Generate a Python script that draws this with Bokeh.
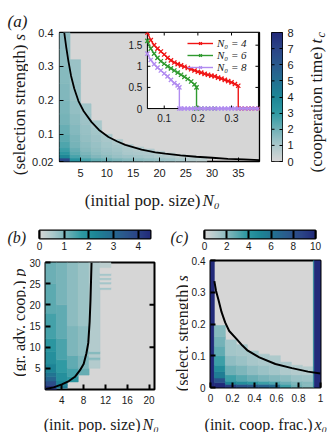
import numpy as np
from bokeh.plotting import figure
from bokeh.models import (Range1d, LinearColorMapper, FixedTicker, PrintfTickFormatter,
                          Legend, LegendItem, LinearAxis, ColumnDataSource)
from bokeh.layouts import column, row
from bokeh.embed import file_html
from bokeh.resources import INLINE
from bokeh.core.properties import value

# ---------------- data: panel (a) heatmap, t_c per N0 column (cells stacked from s = 0.02) -------------
a_N0 = [2, 4, 6, 8, 10, 12, 14, 16, 18, 20, 22, 24, 26, 28]
a_dN0 = 2
a_s_start = 0.02
a_tops = [
    [0.03, 0.04, 0.05, 0.06, 0.08, 0.10, 0.13, 0.16, 0.20, 0.25, 0.30, 0.35, 0.40],
    [0.03, 0.04, 0.05, 0.06, 0.08, 0.10, 0.13, 0.16, 0.20, 0.25, 0.32],
    [0.03, 0.04, 0.05, 0.06, 0.08, 0.10, 0.13, 0.16, 0.19],
    [0.03, 0.04, 0.05, 0.06, 0.08, 0.10, 0.12, 0.14],
    [0.03, 0.04, 0.05, 0.06, 0.08, 0.10],
    [0.03, 0.04, 0.05, 0.06, 0.07, 0.085],
    [0.03, 0.04, 0.05, 0.06, 0.07],
    [0.03, 0.04, 0.05, 0.063],
    [0.03, 0.04, 0.05, 0.057],
    [0.03, 0.04, 0.05],
    [0.03, 0.04, 0.045],
    [0.03, 0.04],
    [0.03, 0.037],
    [0.03, 0.035],
]
a_tc = [
    [6.8, 3.9, 3.2, 2.8, 2.5, 2.3, 2.1, 1.9, 1.8, 1.7, 1.6, 1.5, 1.45],
    [3.4, 2.6, 2.3, 2.1, 1.9, 1.8, 1.65, 1.5, 1.4, 1.3, 1.25],
    [2.6, 2.0, 1.8, 1.6, 1.5, 1.4, 1.3, 1.2, 1.1],
    [2.2, 1.7, 1.5, 1.4, 1.3, 1.2, 1.1, 1.0],
    [2.0, 1.5, 1.3, 1.2, 1.1, 1.0],
    [1.8, 1.3, 1.2, 1.1, 1.0, 0.9],
    [1.6, 1.2, 1.0, 0.95, 0.85],
    [1.5, 1.1, 0.95, 0.8],
    [1.4, 1.0, 0.85, 0.75],
    [1.3, 0.9, 0.7],
    [1.2, 0.8, 0.6],
    [1.0, 0.6],
    [0.8, 0.5],
    [0.6, 0.4],
]
a_curve_N0 = [1.9, 2.3, 2.7, 3.2, 3.8, 4.6, 5.6, 7.1, 8.5, 10.3, 12.0, 13.5, 16.6, 19.2, 21.1,
              24.0, 27.0, 30.0, 33.0, 36.0, 39.0]
a_curve_s = [0.40, 0.355, 0.315, 0.272, 0.235, 0.198, 0.168, 0.136, 0.113, 0.092, 0.079, 0.069,
             0.055, 0.047, 0.043, 0.038, 0.034, 0.031, 0.028, 0.026, 0.024]
a_xticks = [5, 10, 15, 20, 25, 30, 35]
a_yticks = [0.02, 0.1, 0.2, 0.3, 0.4]
a_cb_ticks = [0, 1, 2, 3, 4, 5, 6, 7, 8]

# ---------------- data: inset of (a) ----------------
red_x = [0.05, 0.06, 0.07, 0.08, 0.09, 0.10, 0.11, 0.12, 0.13, 0.14, 0.15, 0.16, 0.17, 0.18, 0.19,
         0.20, 0.21, 0.22, 0.23, 0.24, 0.25, 0.26, 0.27, 0.28, 0.29, 0.30, 0.31, 0.32,
         0.32, 0.33, 0.34, 0.35, 0.36, 0.37, 0.38]
red_y = [1.80, 1.62, 1.50, 1.42, 1.35, 1.28, 1.20, 1.14, 1.09, 1.05, 1.02, 0.99, 0.96, 0.93, 0.90,
         0.87, 0.85, 0.82, 0.80, 0.78, 0.76, 0.73, 0.71, 0.68, 0.65, 0.62, 0.58, 0.54,
         0, 0, 0, 0, 0, 0, 0]
green_x = [0.05, 0.06, 0.07, 0.08, 0.09, 0.10, 0.11, 0.12, 0.13, 0.14, 0.15, 0.16, 0.17, 0.18, 0.19,
           0.196, 0.196, 0.21, 0.23, 0.25]
green_y = [1.60, 1.42, 1.30, 1.20, 1.12, 1.06, 1.00, 0.95, 0.90, 0.85, 0.80, 0.75, 0.70, 0.64, 0.57,
           0.50, 0, 0, 0, 0]
purple_x = [0.05, 0.06, 0.07, 0.08, 0.09, 0.10, 0.11, 0.12, 0.13, 0.14, 0.145,
            0.145, 0.15, 0.16, 0.17, 0.18, 0.19, 0.20, 0.21, 0.22, 0.23, 0.24, 0.25, 0.26, 0.27,
            0.28, 0.29, 0.30, 0.31, 0.32, 0.33, 0.34, 0.35, 0.36, 0.37, 0.38]
purple_y = [1.30, 1.15, 1.05, 0.97, 0.90, 0.83, 0.76, 0.68, 0.60, 0.55, 0.50,
            0, 0, 0, 0, 0, 0, 0, 0, 0, 0, 0, 0, 0, 0, 0, 0, 0, 0, 0, 0, 0, 0, 0, 0, 0]
ins_xticks = [0.1, 0.2, 0.3]
ins_yticks = [0, 0.5, 1, 1.5]
ins_labels = ["N\u2080 = 4", "N\u2080 = 6", "N\u2080 = 8"]

# ---------------- data: panel (b) ----------------
b_N0 = [2, 4, 6, 8, 10, 12]
b_dN0 = 2
b_p_start = [0, 0.3, 1.8, 3.4, 5.0, 23.6]
b_tops = [
    [1, 2, 3, 4, 6, 9, 12, 18, 25, 30],
    [1, 2, 4, 7, 12, 20, 30],
    [3, 5, 8, 15, 30],
    [5, 8, 15, 30],
    [7.0, 7.6, 8.4, 9.0, 30],
    [24.1, 24.9, 25.4, 25.9, 26.4, 26.9, 27.4, 28.8, 30],
]
b_tc = [
    [4.3, 3.7, 3.1, 2.7, 2.3, 2.0, 1.8, 1.5, 1.3, 1.15],
    [2.6, 2.3, 2.0, 1.7, 1.45, 1.25, 1.05],
    [1.8, 1.5, 1.25, 1.0, 0.85],
    [1.2, 1.0, 0.85, 0.7],
    [0.45, 0.9, 0.45, 0.9, 0.45],
    [0.6, 0, 0.6, 0, 0.6, 0, 0.6, 0, 0.35],
]
b_curve_N0 = [1.0, 2.5, 4.0, 5.3, 6.4, 7.3, 8.0, 8.5, 8.85, 9.1, 9.25, 9.35, 9.45]
b_curve_p = [0.1, 0.5, 1.2, 2.0, 3.0, 4.5, 6.0, 8.5, 11, 16, 21, 25.5, 30]
b_xticks = [4, 8, 12, 16, 20]
b_yticks = [5, 10, 15, 20, 25, 30]
b_rticks = [10, 20]
b_cb_ticks = [0, 1, 2, 3, 4]

# ---------------- data: panel (c) ----------------
c_x_left = [0.0, 0.035, 0.135, 0.235, 0.335, 0.435, 0.535, 0.635, 0.735, 0.835, 0.935, 0.943]
c_x_right = [0.035, 0.135, 0.235, 0.335, 0.435, 0.535, 0.635, 0.735, 0.835, 0.935, 0.943, 1.0]
c_s_start = 0.0
c_tops = [
    [0.4],
    [0.015, 0.03, 0.05, 0.07, 0.10, 0.13, 0.16, 0.195],
    [0.01, 0.02, 0.04, 0.07, 0.10, 0.15],
    [0.01, 0.02, 0.04, 0.07, 0.10, 0.135],
    [0.01, 0.02, 0.04, 0.07, 0.115],
    [0.01, 0.02, 0.04, 0.07, 0.105],
    [0.01, 0.02, 0.04, 0.07, 0.10],
    [0.01, 0.02, 0.04, 0.08],
    [0.01, 0.02, 0.04, 0.07],
    [0.01, 0.02, 0.04, 0.065],
    [0.4],
    [0.4],
]
c_tc = [
    [10],
    [10, 8, 5.5, 4.5, 3.5, 2.8, 2.4, 2.0],
    [9, 5, 3.5, 2.5, 1.8, 1.4],
    [8, 4.5, 3.0, 2.2, 1.6, 1.3],
    [7.5, 4, 2.6, 1.8, 1.3],
    [7, 3.5, 2.3, 1.6, 1.2],
    [6.5, 3.2, 2.1, 1.4, 1.1],
    [3.5, 2.6, 1.9, 1.1],
    [2.5, 2.2, 1.6, 1.0],
    [2.0, 2.0, 1.5, 0.9],
    [4.0],
    [10],
]
c_curve_x = [0.035, 0.05, 0.074, 0.1, 0.133, 0.17, 0.236, 0.29, 0.339, 0.444, 0.59, 0.74, 0.886, 1.0]
c_curve_s = [0.335, 0.305, 0.274, 0.238, 0.205, 0.178, 0.153, 0.132, 0.116, 0.095, 0.074, 0.061,
             0.050, 0.044]
c_xticks = [0, 0.2, 0.4, 0.6, 0.8, 1]
c_yticks = [0, 0.1, 0.2, 0.3, 0.4]
c_cb_ticks = [0, 2, 4, 6, 8, 10]

# ---------------- style ----------------
GRAY = "#d6d6d6"
anchors = [(0.0, "#d6d6d6"), (0.125, "#a9c8cb"), (0.25, "#6fb0b6"), (0.375, "#2f9aa3"),
           (0.5, "#1d8696"), (0.625, "#237091"), (0.75, "#2a5a8d"), (0.875, "#2b4587"),
           (1.0, "#222a7a")]


def make_palette(anch, n=256):
    fs = [a[0] for a in anch]
    rgb = np.array([[int(c[i:i + 2], 16) for i in (1, 3, 5)] for _, c in anch], dtype=float)
    out = []
    for t in np.linspace(0, 1, n):
        r, g, b = (np.interp(t, fs, rgb[:, k]) for k in range(3))
        out.append("#%02x%02x%02x" % (int(round(r)), int(round(g)), int(round(b))))
    return out


PAL = make_palette(anchors)
map_a = LinearColorMapper(palette=PAL, low=0, high=8)
map_b = LinearColorMapper(palette=PAL, low=0, high=4.5)
map_c = LinearColorMapper(palette=PAL, low=0, high=10)

SERIF = "Liberation Serif"
SANS = "Liberation Sans"
TXT = "#1a1a1a"
FS = "17px"
FS2 = "16px"


def no_align(p):
    try:
        p.frame_align = False
    except Exception:
        pass
    return p


def fig(w, h, xr, yr, ml, mr, mt, mb, outline_w, **kw):
    p = figure(width=w, height=h, x_range=xr, y_range=yr, output_backend="svg",
               toolbar_location=None, min_border_left=ml, min_border_right=mr,
               min_border_top=mt, min_border_bottom=mb, background_fill_color=GRAY,
               border_fill_color="white", outline_line_color="black",
               outline_line_width=outline_w, **kw)
    p.grid.visible = False
    return no_align(p)


def textfig(w, h):
    # a blank strip whose data units are pixels from its bottom-left corner
    p = figure(width=w, height=h, x_range=Range1d(0, w), y_range=Range1d(0, h),
               output_backend="svg", toolbar_location=None, min_border=0,
               x_axis_location=None, y_axis_location=None, outline_line_color=None,
               background_fill_color="white", border_fill_color="white")
    p.grid.visible = False
    return no_align(p)


def style_axis(ax, ticks, size, tick_w, standoff, tick_len=4):
    ax.ticker = FixedTicker(ticks=ticks)
    ax.formatter = PrintfTickFormatter(format="%g")
    ax.major_tick_in = tick_len
    ax.major_tick_out = 0
    ax.minor_tick_line_color = None
    ax.axis_line_color = None
    ax.major_tick_line_color = "black"
    ax.major_tick_line_width = tick_w
    ax.major_label_text_font = SANS
    ax.major_label_text_font_size = size
    ax.major_label_text_color = TXT
    ax.major_label_standoff = standoff


def cells(p, lefts, rights, starts, tops, vals, mapper):
    L, R, B, T, V = [], [], [], [], []
    for l, r, s0, tp, vv in zip(lefts, rights, starts, tops, vals):
        b = s0
        for t, v in zip(tp, vv):
            L.append(l); R.append(r); B.append(b); T.append(t); V.append(v)
            b = t
    src = ColumnDataSource(dict(left=L, right=R, bottom=B, top=T, v=V))
    cm = {"field": "v", "transform": mapper}
    p.quad(left="left", right="right", bottom="bottom", top="top", source=src,
           fill_color=cm, line_color=cm, line_width=0.6)


def lab(p, x, y, text, size=FS, style="normal", angle=0.0, align="left"):
    p.text(x=[x], y=[y], text=[text], text_font=value(SERIF), text_font_size=size,
           text_font_style=style, angle=angle, text_align=align,
           text_baseline="alphabetic", text_color=TXT)


ROT = np.pi / 2

# ================= panel (a) =================
pa = fig(239, 185, Range1d(1, 39), Range1d(0.02, 0.4), 31, 8, 32, 24, 1.3)
cells(pa, [n - a_dN0 / 2 for n in a_N0], [n + a_dN0 / 2 for n in a_N0],
      [a_s_start] * len(a_N0), a_tops, a_tc, map_a)
pa.line(a_curve_N0, a_curve_s, color="black", line_width=1.8)
style_axis(pa.xaxis[0], a_xticks, "11px", 1, 7)
style_axis(pa.yaxis[0], a_yticks, "11px", 1, 6)

# inset
ix = Range1d(0.05, 0.38)
iy = Range1d(0, 1.8)
ins = pa.subplot(x_source=ix, y_source=iy, x_target=Range1d(17.7, 38.8),
                 y_target=Range1d(0.176, 0.4))
ins.quad(left=[ix.start], right=[ix.end], bottom=[iy.start], top=[iy.end],
         fill_color="white", line_color="black", line_width=1)
ins.ray(x=[ix.start] * len(ins_yticks), y=ins_yticks, length=3, length_units="screen",
        angle=0, color="black", line_width=1)
ins.ray(x=[ix.end] * len(ins_yticks), y=ins_yticks, length=3, length_units="screen",
        angle=np.pi, color="black", line_width=1)
ins.ray(x=ins_xticks, y=[iy.start] * len(ins_xticks), length=3, length_units="screen",
        angle=np.pi / 2, color="black", line_width=1)
ins.ray(x=ins_xticks, y=[iy.end] * len(ins_xticks), length=3, length_units="screen",
        angle=-np.pi / 2, color="black", line_width=1)
ins.text(x=[ix.start] * len(ins_yticks), y=ins_yticks, text=["%g" % v for v in ins_yticks],
         x_offset=-5, text_align="right", text_baseline="middle",
         text_font=value(SANS), text_font_size="10px", text_color=TXT)
ins.text(x=ins_xticks, y=[iy.start] * len(ins_xticks), text=["%g" % v for v in ins_xticks],
         y_offset=5, text_align="center", text_baseline="top",
         text_font=value(SANS), text_font_size="10px", text_color=TXT)

items = []
for xs, ys, col, lb in [(red_x, red_y, "#f01414", ins_labels[0]),
                        (green_x, green_y, "#2f9a2f", ins_labels[1]),
                        (purple_x, purple_y, "#b18cf0", ins_labels[2])]:
    r1 = ins.line(xs, ys, color=col, line_width=1.4)
    r2 = ins.scatter(xs, ys, marker="x", size=6, line_color=col, line_width=1.3)
    items.append(LegendItem(label=lb, renderers=[r1, r2]))
leg = Legend(items=items, location=(128, 88), background_fill_alpha=0, border_line_color=None,
             label_text_font=SERIF, label_text_font_style="italic", label_text_font_size="11px",
             label_text_color=TXT, glyph_width=26, glyph_height=10, label_height=10,
             label_standoff=4, spacing=0, padding=2, margin=0)
pa.add_layout(leg)

# colorbar (a)
pacb = fig(33, 185, Range1d(0, 1), Range1d(0, 8), 4, 18, 32, 24, 1,
           x_axis_location=None, y_axis_location=None)
pacb.image(image=[np.linspace(0, 8, 256).reshape(256, 1)], x=0, y=0, dw=1, dh=8,
           color_mapper=map_a)
axr = LinearAxis()
style_axis(axr, a_cb_ticks, "11px", 1, 5, tick_len=3)
pacb.add_layout(axr, "right")
pacb.ray(x=[0] * len(a_cb_ticks), y=a_cb_ticks, length=3, length_units="screen", angle=0,
         color="black", line_width=1)

# text strips around (a)
ya = textfig(28, 185)
lab(ya, 7, 164, "(a)", style="italic")
lab(ya, 19, 141, "(selection strength)", angle=ROT, align="right")
lab(ya, 19, 145, "s", style="italic", angle=ROT)

cbl = textfig(32, 185)
lab(cbl, 16, 139, "(cooperation time)", angle=ROT, align="right")
lab(cbl, 16, 142, "t", style="italic", angle=ROT)
lab(cbl, 20, 148, "c", size="12px", style="italic", angle=ROT)

xa = textfig(332, 35)
lab(xa, 200, 20, "(initial pop. size)", align="right")
lab(xa, 202, 20, "N\u2080", style="italic")

top = column(row(ya, pa, pacb, cbl), xa)

# ================= panel (b) =================
pbcb = fig(132, 33, Range1d(0, 4.5), Range1d(0, 1), 5, 16, 10, 15, 2, y_axis_location=None)
pbcb.image(image=[np.linspace(0, 4.5, 256).reshape(1, 256)], x=0, y=0, dw=4.5, dh=1,
           color_mapper=map_b)
style_axis(pbcb.xaxis[0], b_cb_ticks, "10px", 2, 3, tick_len=8)
blab = textfig(34, 33)
lab(blab, 7, 16, "(b)", size=FS2, style="italic")

pb = fig(140, 156, Range1d(1, 21), Range1d(0, 30), 17, 12, 9, 20, 2)
cells(pb, [n - b_dN0 / 2 for n in b_N0], [n + b_dN0 / 2 for n in b_N0], b_p_start, b_tops, b_tc,
      map_b)
pb.line(b_curve_N0, b_curve_p, color="black", line_width=2)
style_axis(pb.xaxis[0], b_xticks, "10px", 2, 6, tick_len=5)
style_axis(pb.yaxis[0], b_yticks, "10px", 2, 5, tick_len=5)
pb.ray(x=[pb.x_range.end] * len(b_rticks), y=b_rticks, length=5, length_units="screen",
       angle=np.pi, color="black", line_width=2)
yb = textfig(26, 156)
lab(yb, 19, 129, "(gr. adv. coop.)", size=FS2, angle=ROT, align="right")
lab(yb, 19, 133, "p", size=FS2, style="italic", angle=ROT)
xb = textfig(166, 23)
lab(xb, 140, 8, "(init. pop. size)", size=FS2, align="right")
lab(xb, 142, 8, "N\u2080", size=FS2, style="italic")

colb = column(row(blab, pbcb), row(yb, pb), xb)

# ================= panel (c) =================
pccb = fig(132, 33, Range1d(0, 10), Range1d(0, 1), 4, 17, 10, 15, 2, y_axis_location=None)
pccb.image(image=[np.linspace(0, 10, 256).reshape(1, 256)], x=0, y=0, dw=10, dh=1,
           color_mapper=map_c)
style_axis(pccb.xaxis[0], c_cb_ticks, "10px", 2, 3, tick_len=8)
clab = textfig(34, 33)
lab(clab, 4, 16, "(c)", size=FS2, style="italic")

pc = fig(144, 156, Range1d(0, 1), Range1d(0, 0.4), 19, 12, 7, 22, 2)
cells(pc, c_x_left, c_x_right, [c_s_start] * len(c_x_left), c_tops, c_tc, map_c)
pc.line(c_curve_x, c_curve_s, color="black", line_width=2)
style_axis(pc.xaxis[0], c_xticks, "10px", 2, 6, tick_len=5)
style_axis(pc.yaxis[0], c_yticks, "10px", 2, 5, tick_len=5)
yc = textfig(22, 156)
lab(yc, 16, 125, "(select. strength)", size=FS2, angle=ROT, align="right")
lab(yc, 16, 128, "s", size=FS2, style="italic", angle=ROT)
xc = textfig(166, 23)
lab(xc, 146, 8, "(init. coop. frac.)", size=FS2, align="right")
lab(xc, 148, 8, "x\u2080", size=FS2, style="italic")

colc = column(row(clab, pccb), row(yc, pc), xc)

layout = column(top, row(colb, colc))
open("out.html", "w").write(file_html(layout, INLINE))
